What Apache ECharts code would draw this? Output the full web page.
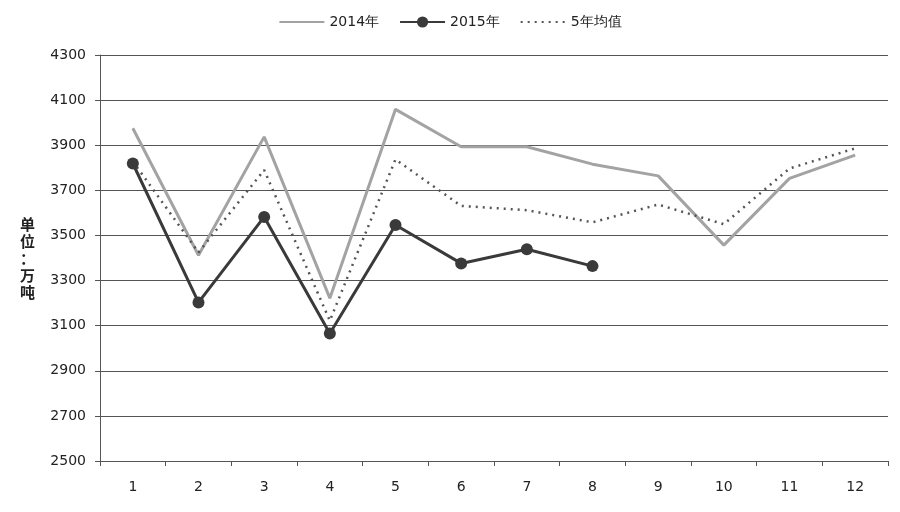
<!DOCTYPE html>
<html><head><meta charset="utf-8">
<script src="https://cdn.jsdelivr.net/npm/echarts@6/dist/echarts.min.js"></script>
<style>html,body{margin:0;padding:0;background:#fff}#c{width:900px;height:512px}</style>
</head><body><div id="c"></div>
<script>
const categories = ['1','2','3','4','5','6','7','8','9','10','11','12'];
const s2014 = [3975, 3412, 3937, 3222, 4059, 3893, 3893, 3816, 3764, 3457, 3753, 3856];
const s2015 = [3819, 3203, 3582, 3065, 3546, 3376, 3439, 3364];
const avg5 = [3828, 3425, 3790, 3122, 3837, 3631, 3612, 3558, 3637, 3550, 3797, 3886];
const seriesNames = ['2014年', '2015年', '5年均值'];
const yName = '单\n位\n：\n万\n吨';

const chart = echarts.init(document.getElementById('c'), null, {renderer: 'canvas'});
const font = 'DejaVu Sans';
chart.setOption({
  animation: false,
  backgroundColor: '#fff',
  textStyle: {fontFamily: font},
  legend: {
    top: 10, left: 'center', itemWidth: 45, itemHeight: 14, itemGap: 20,
    textStyle: {fontFamily: font, fontSize: 14, color: '#222'},
    data: [
      {name: seriesNames[0], itemStyle: {color: 'transparent', borderWidth: 0}},
      {name: seriesNames[1]},
      {name: seriesNames[2], itemStyle: {color: 'transparent', borderWidth: 0}}
    ]
  },
  grid: {left: 100, right: 12, top: 55, bottom: 51},
  xAxis: {
    type: 'category', data: categories, boundaryGap: true,
    axisLine: {lineStyle: {color: '#555', width: 1}},
    axisTick: {show: true, length: 5, lineStyle: {color: '#555'}},
    axisLabel: {margin: 19, fontSize: 14, color: '#222', fontFamily: font}
  },
  yAxis: {
    type: 'value', min: 2500, max: 4300, interval: 200,
    name: yName, nameLocation: 'middle', nameRotate: 0, nameGap: 65,
    nameTextStyle: {fontSize: 15, fontWeight: 'bold', color: '#222', lineHeight: 17, fontFamily: 'Noto Sans CJK SC'},
    axisLine: {show: true, lineStyle: {color: '#555'}},
    axisTick: {show: true, length: 5, lineStyle: {color: '#555'}},
    axisLabel: {margin: 14, fontSize: 14, color: '#222', fontFamily: font, formatter: v => String(v)},
    splitLine: {lineStyle: {color: '#555', width: 1}}
  },
  series: [
    {name: seriesNames[0], type: 'line', data: s2014, symbol: 'none',
     lineStyle: {color: '#a3a3a3', width: 3}, itemStyle: {color: '#a3a3a3'}},
    {name: seriesNames[2], type: 'line', data: avg5, symbol: 'none',
     lineStyle: {color: '#555', width: 2.5, type: [2, 5]}, itemStyle: {color: '#555'}},
    {name: seriesNames[1], type: 'line', data: s2015, symbol: 'circle', symbolSize: 12,
     lineStyle: {color: '#3a3a3a', width: 3}, itemStyle: {color: '#3a3a3a'}}
  ]
});
</script></body></html>
